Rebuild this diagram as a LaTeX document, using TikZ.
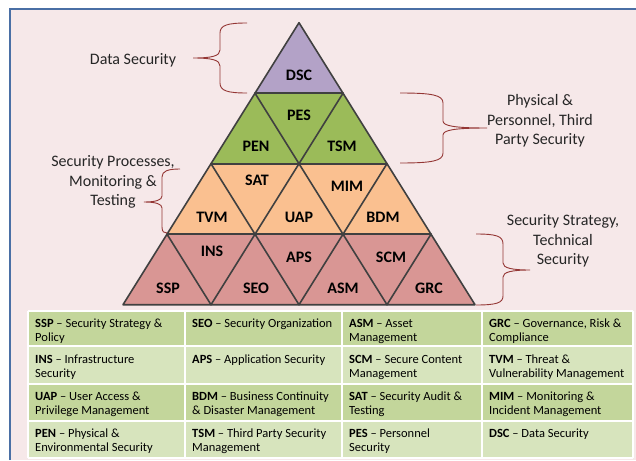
\documentclass[tikz,border=0pt]{standalone}
\usepackage{fontspec}
\setmainfont{Carlito}
\definecolor{tridraw}{HTML}{404040}
\definecolor{dscpurple}{HTML}{B3A2C7}
\definecolor{lvgreen}{HTML}{9BBB59}
\definecolor{lvorange}{HTML}{FAC090}
\definecolor{lvred}{HTML}{D99694}
\definecolor{bracered}{HTML}{943634}
\definecolor{labgray}{HTML}{262626}
\definecolor{framecol}{HTML}{4A6FA5}
\definecolor{bgpink}{RGB}{246,232,233}
\definecolor{rowdark}{HTML}{C3D69B}
\definecolor{rowlight}{HTML}{D7E4BD}
\begin{document}
\begin{tikzpicture}[x=1pt,y=-1pt,
  tri/.style={draw=tridraw, line width=1.6pt, line join=round, line cap=round},
  trilab/.style={inner sep=0pt, font=\fontsize{16}{19}\selectfont\bfseries},
  sidelab/.style={inner sep=0pt, align=center, text=labgray, font=\fontsize{16}{19.3}\selectfont},
  brc/.style={draw=bracered, line width=0.9pt},
  cell/.style={anchor=north west, align=left, inner sep=0pt, font=\fontsize{12.5}{14.7}\selectfont},
  gridline/.style={draw=white, line width=1.8pt}]
\useasboundingbox (0,0) rectangle (636,460);
\fill[white] (0,0) rectangle (636,460);
\fill[bgpink] (10,9.5) rectangle (636,460);
\draw[framecol, line width=2pt] (10,460) -- (10,9.5) -- (636,9.5);

% pyramid vertices
\foreach \r in {0,...,4}{
  \foreach \i in {0,...,\r}{
    \coordinate (v-\r-\i) at ({299+(2*\i-\r)*44},{22.7+\r*70.5});
  }
}
\fill[dscpurple] (v-0-0) -- (v-1-0) -- (v-1-1) -- cycle;
\fill[lvgreen] (v-1-0) -- (v-2-0) -- (v-2-2) -- (v-1-1) -- cycle;
\fill[lvorange] (v-2-0) -- (v-3-0) -- (v-3-3) -- (v-2-2) -- cycle;
\fill[lvred] (v-3-0) -- (v-4-0) -- (v-4-4) -- (v-3-3) -- cycle;
\draw[tri] (v-0-0) -- (v-4-0) -- (v-4-4) -- cycle;
\foreach \r in {1,2,3} \draw[tri] (v-\r-0) -- (v-\r-\r);
\foreach \i in {1,2,3} \draw[tri] (v-\i-\i) -- (v-4-\i);
\foreach \j [evaluate=\j as \k using int(4-\j)] in {1,2,3} \draw[tri] (v-\j-0) -- (v-4-\k);

% triangle labels
\node[trilab] (dsc) at (299,75) {DSC};
\node[trilab] (pes) at (299,115) {PES};
\node[trilab] (pen) at (256,146) {PEN};
\node[trilab] (tsm) at (342,146) {TSM};
\node[trilab] (sat) at (257,180) {SAT};
\node[trilab] (mim) at (347,186) {MIM};
\node[trilab] (tvm) at (212,217) {TVM};
\node[trilab] (uap) at (299,217) {UAP};
\node[trilab] (bdm) at (383,217) {BDM};
\node[trilab] (ins) at (212,251) {INS};
\node[trilab] (aps) at (299,257) {APS};
\node[trilab] (scm) at (391,257) {SCM};
\node[trilab] (ssp) at (168,288) {SSP};
\node[trilab] (seo) at (256,288) {SEO};
\node[trilab] (asm) at (343,288) {ASM};
\node[trilab] (grc) at (429,288) {GRC};

% side labels
\node[sidelab] (ldata) at (133,60) {Data Security};
\node[sidelab] (lphys) at (540,121) {Physical \&\\Personnel, Third\\Party Security};
\node[sidelab] (lproc) at (113,182) {Security Processes,\\Monitoring \&\\Testing};
\node[sidelab] (lstrat) at (563,241) {Security Strategy,\\Technical\\Security};

% braces
\draw[brc] (247,23) .. controls (228,23) and (220,25) .. (220,33) -- (220,50)
  .. controls (220,56) and (212,58) .. (193,58)
  .. controls (212,58) and (220,60) .. (220,66) -- (220,83)
  .. controls (220,91) and (228,93) .. (247,93);
\draw[brc] (180,169) .. controls (168,169) and (162,171) .. (162,177) -- (162,196)
  .. controls (162,200) and (156,202) .. (144,202)
  .. controls (156,202) and (162,204) .. (162,208) -- (162,227)
  .. controls (162,232) and (164,233) .. (167,233);
\draw[brc] (400,93) .. controls (432,93) and (443,95) .. (443,103) -- (443,121)
  .. controls (443,126) and (455,128) .. (487,128)
  .. controls (455,128) and (443,130) .. (443,135) -- (443,153)
  .. controls (443,161) and (432,163) .. (400,163);
\draw[brc] (476,234) .. controls (496,234) and (503,236) .. (503,244) -- (503,263)
  .. controls (503,268) and (512,270) .. (530,270)
  .. controls (512,270) and (503,272) .. (503,277) -- (503,296)
  .. controls (503,303) and (496,305) .. (476,305);

% table
\fill[rowdark] (28,311) rectangle (633,346);
\fill[rowlight] (28,346) rectangle (633,384);
\fill[rowdark] (28,384) rectangle (633,421);
\fill[rowlight] (28,421) rectangle (633,458);
\foreach \yy in {311,346,384,421,458} \draw[gridline] (28,\yy) -- (633,\yy);
\foreach \xx in {28,185,342,482,633} \draw[gridline] (\xx,311) -- (\xx,458);

\node[cell] (c11) at (35,316.7) {\strut\textbf{SSP} – Security Strategy \&\\Policy};
\node[cell] (c12) at (192,316.7) {\strut\textbf{SEO} – Security Organization};
\node[cell] (c13) at (349,316.7) {\strut\textbf{ASM} – Asset\\Management};
\node[cell] (c14) at (489,316.7) {\strut\textbf{GRC} – Governance, Risk \&\\Compliance};
\node[cell] (c21) at (35,352.7) {\strut\textbf{INS} – Infrastructure\\Security};
\node[cell] (c22) at (192,352.7) {\strut\textbf{APS} – Application Security};
\node[cell] (c23) at (349,352.7) {\strut\textbf{SCM} – Secure Content\\Management};
\node[cell] (c24) at (489,352.7) {\strut\textbf{TVM} – Threat \&\\Vulnerability Management};
\node[cell] (c31) at (35,389.7) {\strut\textbf{UAP} – User Access \&\\Privilege Management};
\node[cell] (c32) at (192,389.7) {\strut\textbf{BDM} – Business Continuity\\ \& Disaster Management};
\node[cell] (c33) at (349,389.7) {\strut\textbf{SAT} – Security Audit \&\\Testing};
\node[cell] (c34) at (489,389.7) {\strut\textbf{MIM} – Monitoring \&\\Incident Management};
\node[cell] (c41) at (35,426.7) {\strut\textbf{PEN} – Physical \&\\Environmental Security};
\node[cell] (c42) at (192,426.7) {\strut\textbf{TSM} – Third Party Security\\Management};
\node[cell] (c43) at (349,426.7) {\strut\textbf{PES} – Personnel\\Security};
\node[cell] (c44) at (489,426.7) {\strut\textbf{DSC} – Data Security};
\end{tikzpicture}
\end{document}
